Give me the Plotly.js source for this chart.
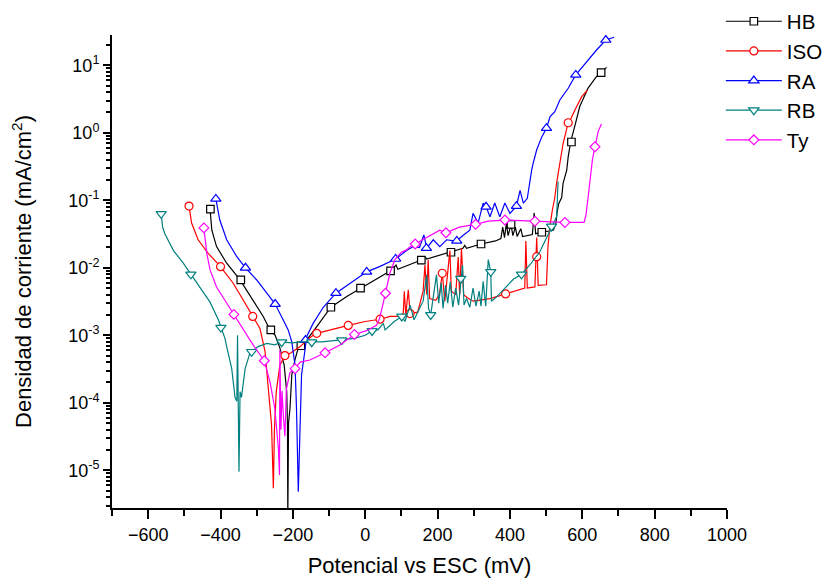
<!DOCTYPE html>
<html>
<head>
<meta charset="utf-8">
<script src="https://cdn.plot.ly/plotly-3.0.1.min.js"></script>
<style>
  html, body { margin: 0; padding: 0; background: #ffffff; }
  #chart { width: 828px; height: 581px; }
</style>
</head>
<body>
<div id="chart"></div>
<script>
// ---- Data (potential in mV vs ESC, current density in mA/cm2) ----
const seriesNames = ['HB', 'ISO', 'RA', 'RB', 'Ty'];

const HB_x = [-429,-424,-411,-383,-346,-310,-282,-263,-249,-236,-224,-217,-215,-214,-212,-208,-203,-194,-185,-178,-162,-134,-95,-50,-13,30,70,85,90,155,165,170,234,270,275,280,320,360,375,380,385,390,395,400,403,408,415,420,430,435,450,462,467,471,488,505,520,527,530,535,543,547,557,561,568,580,593,616,639,652,667];
const HB_y = [0.074,0.036,0.0206,0.0117,0.0066,0.0033,0.0019,0.0012,0.001,0.00065,0.00036,0.000145,0.000047,0.000002,0.00005,0.000083,0.00026,0.00044,0.00065,0.0007,0.00085,0.00134,0.0026,0.0038,0.005,0.0068,0.009,0.011,0.0095,0.013,0.0145,0.0135,0.017,0.0195,0.0215,0.0195,0.0225,0.025,0.027,0.04,0.028,0.045,0.03,0.038,0.044,0.03,0.04,0.029,0.038,0.029,0.03,0.031,0.065,0.032,0.0336,0.035,0.036,0.045,0.065,0.09,0.11,0.18,0.28,0.44,0.74,1.3,2.45,4.6,6.8,7.8,9.3];
const HB_mx = [-428,-344,-261,-178,-95,-13,70,155,237,320,403,488,570,652];
const HB_my = [0.074,0.0066,0.0012,0.0007,0.0026,0.005,0.009,0.013,0.017,0.0225,0.044,0.0336,0.73,7.8];

const ISO_x = [-487,-484,-480,-462,-434,-400,-365,-337,-311,-291,-277,-268,-259,-254,-251,-246,-236,-222,-205,-180,-150,-134,-100,-47,0,41,69,96,105,108,112,119,124,145,160,165,170,174,178,195,205,213,220,234,238,250,257,261,266,272,285,299,345,388,441,444,448,469,474,478,501,505,510,517,524,529,538,547,561,568,580,598,614];
const ISO_y = [0.082,0.06,0.046,0.026,0.0164,0.0104,0.0059,0.0033,0.0019,0.00126,0.00058,0.00018,0.000047,0.0000054,0.00004,0.000145,0.00036,0.0005,0.00055,0.00068,0.00095,0.00107,0.0012,0.0014,0.0016,0.00173,0.0019,0.0019,0.0021,0.0045,0.002,0.0047,0.0021,0.0022,0.0045,0.011,0.004,0.013,0.0035,0.0033,0.004,0.0083,0.0032,0.018,0.0045,0.004,0.0144,0.004,0.0195,0.004,0.0035,0.0032,0.0035,0.0041,0.005,0.025,0.005,0.0052,0.028,0.0055,0.0056,0.02,0.04,0.07,0.11,0.18,0.35,0.7,1.41,1.6,2.2,3.4,4.3];
const ISO_mx = [-487,-400,-311,-222,-134,-47,41,124,213,388,474,561];
const ISO_my = [0.082,0.0104,0.0019,0.0005,0.00107,0.0014,0.00173,0.0021,0.0083,0.0041,0.0146,1.41];

const RA_x = [-413,-408,-402,-383,-355,-331,-300,-272,-249,-227,-213,-203,-194,-190,-185,-180,-176,-167,-162,-144,-116,-81,-42,4,41,68,84,114,133,150,162,170,188,206,225,245,253,270,289,298,312,326,334,345,358,372,386,400,418,428,437,448,455,460,464,474,488,501,511,524,538,561,582,612,640,665,688];
const RA_y = [0.105,0.07,0.051,0.026,0.0146,0.01,0.0066,0.0042,0.0029,0.0017,0.0012,0.0008,0.00036,0.000083,0.0000048,0.000047,0.00026,0.00058,0.00095,0.0015,0.0026,0.0042,0.0059,0.0087,0.0105,0.0123,0.0135,0.018,0.0206,0.02,0.0306,0.0195,0.026,0.0206,0.026,0.025,0.025,0.03,0.036,0.064,0.046,0.091,0.08,0.057,0.091,0.057,0.091,0.064,0.082,0.14,0.091,0.107,0.2,0.28,0.35,0.56,0.87,1.17,1.74,2.05,3.06,4.57,7.2,11.3,17,23.7,26];
const RA_mx = [-413,-331,-249,-165,-81,4,84,169,253,334,418,501,582,665];
const RA_my = [0.105,0.01,0.0029,0.00085,0.0042,0.0087,0.0135,0.0195,0.025,0.08,0.082,1.17,7.2,23.7];

const RB_x = [-564,-560,-554,-530,-503,-482,-457,-429,-406,-399,-388,-383,-369,-360,-355,-353,-351,-349,-346,-342,-332,-319,-314,-296,-272,-250,-231,-200,-180,-148,-120,-100,-65,-30,0,19,35,50,55,69,80,101,110,124,135,150,160,170,175,181,190,197,203,210,215,222,228,235,242,250,258,264,269,273,280,289,298,306,315,320,326,333,340,347,349,363,386,410,432,455,483,501,515,529,531,533];
const RB_y = [0.063,0.04,0.032,0.018,0.0117,0.008,0.0052,0.0031,0.0017,0.0013,0.00091,0.00068,0.00032,0.00012,0.000105,0.001,0.000083,0.0000095,0.000146,0.00012,0.00032,0.00054,0.00057,0.00068,0.00076,0.00072,0.00079,0.00077,0.0008,0.00079,0.0008,0.00082,0.00085,0.0009,0.001,0.00116,0.0012,0.0015,0.0012,0.0014,0.0016,0.0019,0.0016,0.0028,0.0017,0.0025,0.0032,0.0079,0.0025,0.002,0.0045,0.0079,0.003,0.006,0.0025,0.0055,0.003,0.0062,0.0026,0.005,0.0028,0.0069,0.011,0.0028,0.0035,0.0026,0.005,0.0027,0.0045,0.0027,0.0063,0.0027,0.0132,0.0087,0.0032,0.0037,0.005,0.0068,0.008,0.011,0.0174,0.0275,0.041,0.057,0.1,0.19];
const RB_mx = [-564,-482,-399,-314,-231,-148,-65,19,101,181,264,347,432,515];
const RB_my = [0.063,0.008,0.0013,0.00057,0.00079,0.00079,0.00085,0.00116,0.0019,0.002,0.0069,0.0087,0.008,0.041];

const Ty_x = [-446,-443,-438,-429,-411,-388,-363,-337,-310,-279,-263,-250,-240,-237,-236,-233,-230,-226,-222,-218,-212,-208,-194,-180,-153,-111,-70,-30,4,31,40,50,56,68,82,100,114,123,138,160,188,206,223,260,305,340,386,420,469,500,552,605,610,616,621,628,635,644,653];
const Ty_y = [0.039,0.026,0.0164,0.0093,0.0052,0.0033,0.00204,0.0012,0.00072,0.00042,0.0002,0.000083,0.000021,0.0000085,0.0006,0.00004,0.00015,0.00006,0.000032,0.00016,0.00023,0.00028,0.00032,0.0004,0.00043,0.00055,0.00072,0.00103,0.00117,0.00141,0.0018,0.0033,0.0042,0.0083,0.0132,0.017,0.0184,0.0204,0.0225,0.026,0.032,0.036,0.033,0.04,0.044,0.049,0.051,0.05,0.049,0.048,0.047,0.047,0.06,0.11,0.2,0.4,0.62,1.05,1.35];
const Ty_mx = [-446,-363,-279,-194,-111,-30,56,138,223,305,386,469,552,635];
const Ty_my = [0.039,0.00204,0.00042,0.00032,0.00055,0.00103,0.0042,0.0225,0.033,0.044,0.051,0.049,0.047,0.62];

const yTickVals = [1e-5, 1e-4, 1e-3, 1e-2, 1e-1, 1e0, 1e1];
const yTickText = ['10<sup>-5</sup>','10<sup>-4</sup>','10<sup>-3</sup>','10<sup>-2</sup>','10<sup>-1</sup>','10<sup>0</sup>','10<sup>1</sup>'];

// ---- Styling ----
const seriesData = {
  HB:  {x: HB_x,  y: HB_y,  mx: HB_mx,  my: HB_my},
  ISO: {x: ISO_x, y: ISO_y, mx: ISO_mx, my: ISO_my},
  RA:  {x: RA_x,  y: RA_y,  mx: RA_mx,  my: RA_my},
  RB:  {x: RB_x,  y: RB_y,  mx: RB_mx,  my: RB_my},
  Ty:  {x: Ty_x,  y: Ty_y,  mx: Ty_mx,  my: Ty_my}
};
const styles = {
  HB:  {color: '#000000', symbol: 'square',        size: 7.5},
  ISO: {color: '#ff0000', symbol: 'circle',        size: 8},
  RA:  {color: '#0000ff', symbol: 'triangle-up',   size: 9},
  RB:  {color: '#008080', symbol: 'triangle-down', size: 9},
  Ty:  {color: '#ff00ff', symbol: 'diamond',       size: 7.5}
};

const traces = [];
seriesNames.forEach(function (name) {
  const d = seriesData[name], s = styles[name];
  const mk = {symbol: s.symbol, size: s.size, color: '#ffffff', line: {color: s.color, width: 1.2}};
  traces.push({x: d.x, y: d.y, type: 'scatter', mode: 'lines', name: name, legendgroup: name,
    showlegend: false, line: {color: s.color, width: 1.2}, hoverinfo: 'skip'});
  traces.push({x: d.mx, y: d.my, type: 'scatter', mode: 'markers', name: name, legendgroup: name,
    showlegend: false, marker: mk, hoverinfo: 'skip'});
  traces.push({x: [null], y: [null], type: 'scatter', mode: 'lines+markers', name: name, legendgroup: name,
    showlegend: true, line: {color: s.color, width: 1.2}, marker: mk});
});

const FONT = 'Liberation Sans, Arial, sans-serif';

const layout = {
  width: 828, height: 581,
  margin: {l: 112, r: 101, t: 35, b: 73, autoexpand: false},
  paper_bgcolor: '#ffffff', plot_bgcolor: '#ffffff',
  font: {family: FONT, color: '#000000', size: 18},
  showlegend: true,
  legend: {x: 0.99, xanchor: 'left', y: 1.071, yanchor: 'top', font: {size: 20.5, family: FONT},
           itemwidth: 56, bgcolor: 'rgba(0,0,0,0)', borderwidth: 0, tracegroupgap: 0},
  xaxis: {
    range: [-700, 1000], tickmode: 'linear', tick0: 0, dtick: 200,
    showline: true, linecolor: '#000000', linewidth: 2, mirror: false,
    ticks: 'outside', ticklen: 9, tickwidth: 2, tickcolor: '#000000',
    showgrid: false, zeroline: false,
    tickfont: {size: 18, family: FONT},
    minor: {dtick: 100, ticks: 'outside', ticklen: 6, tickwidth: 2, tickcolor: '#000000', showgrid: false},
    title: {text: 'Potencial vs ESC (mV)', font: {size: 22, family: FONT}, standoff: 14}
  },
  yaxis: {
    type: 'log', range: [-5.559, 1.449],
    tickmode: 'array', tickvals: yTickVals, ticktext: yTickText,
    showline: true, linecolor: '#000000', linewidth: 2, mirror: false,
    ticks: 'outside', ticklen: 7, tickwidth: 2, tickcolor: '#000000',
    showgrid: false, zeroline: false,
    tickfont: {size: 18, family: FONT},
    minor: {dtick: 'D1', ticks: 'outside', ticklen: 4, tickwidth: 1.5, tickcolor: '#000000', showgrid: false},
    title: {text: 'Densidad de corriente (mA/cm<sup>2</sup>)', font: {size: 22, family: FONT}, standoff: 30}
  }
};

Plotly.newPlot('chart', traces, layout, {displayModeBar: false}).then(function (gd) {
  // give tick label <text> nodes explicit size attributes / classes (Plotly leaves them unclassed)
  gd.querySelectorAll('g.xtick > text, g.ytick > text').forEach(function (t) {
    const fs = t.style.fontSize || '18px';
    t.setAttribute('font-size', fs);
    t.setAttribute('class', t.parentNode.getAttribute('class') + 'label');
  });
});
</script>
</body>
</html>
